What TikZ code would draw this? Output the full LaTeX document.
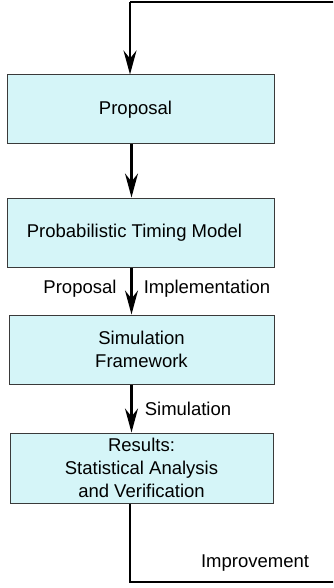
\documentclass[tikz,border=0pt]{standalone}
\usepackage{fontspec}
\setmainfont{Liberation Sans}
\usetikzlibrary{arrows.meta}
\definecolor{boxfill}{HTML}{D5F5F8}
\definecolor{boxline}{HTML}{3A3A3A}
\tikzset{
  stagebox/.style={draw=boxline, line width=1pt, fill=boxfill, minimum width=267pt,
    minimum height=69pt, inner sep=0pt, align=center, font=\fontsize{18.5}{23}\selectfont},
  flow/.style={line width=2.3pt, -{Stealth[length=24pt, width=13pt, inset=8pt]}},
  loopline/.style={line width=2.3pt},
  tag/.style={font=\fontsize{18.5}{23}\selectfont, inner sep=0pt}
}
\begin{document}
\begin{tikzpicture}[x=1pt, y=-1pt]
  \useasboundingbox (0,0) rectangle (333,588);
  \clip (0,0) rectangle (333,588);

  % stages of the flow
  \node[stagebox] (prop) at (140.5,109.5) {\hspace*{-10pt}Proposal};
  \node[stagebox] (ptm)  at (140.5,232.5) {\hspace*{-12pt}Probabilistic Timing Model};
  \node[stagebox, minimum width=265pt] (sim) at (141.5,349.5) {Simulation\\Framework};
  \node[stagebox, minimum width=263pt, minimum height=70pt] (res) at (141.5,468) {Results:\\Statistical Analysis\\and Verification};

  % vertical spine and return loop corners
  \coordinate (spine) at (131.5,0);
  \coordinate (loopTop) at (130,2);
  \coordinate (loopBot) at (130,582);
  \coordinate (farTop) at (338,2);
  \coordinate (farBot) at (338,582);

  % forward arrows
  \draw[flow] (prop.south -| spine) -- (ptm.north -| spine);
  \draw[flow] (ptm.south -| spine) -- (sim.north -| spine);
  \draw[flow] (sim.south -| spine) -- (res.north -| spine);

  % improvement feedback loop
  \draw[loopline] (res.south -| loopBot) -- (loopBot) -- (farBot) -- (farTop) -- (loopTop);
  \draw[flow] (loopTop) -- (prop.north -| loopTop);

  % arrow labels
  \node[tag] (lprop) at (80,289) {Proposal};
  \node[tag] (limpl) at (207,289) {Implementation};
  \node[tag] (lsim)  at (188,409) {Simulation};
  \node[tag] (limp)  at (255,563) {Improvement};
\end{tikzpicture}
\end{document}
